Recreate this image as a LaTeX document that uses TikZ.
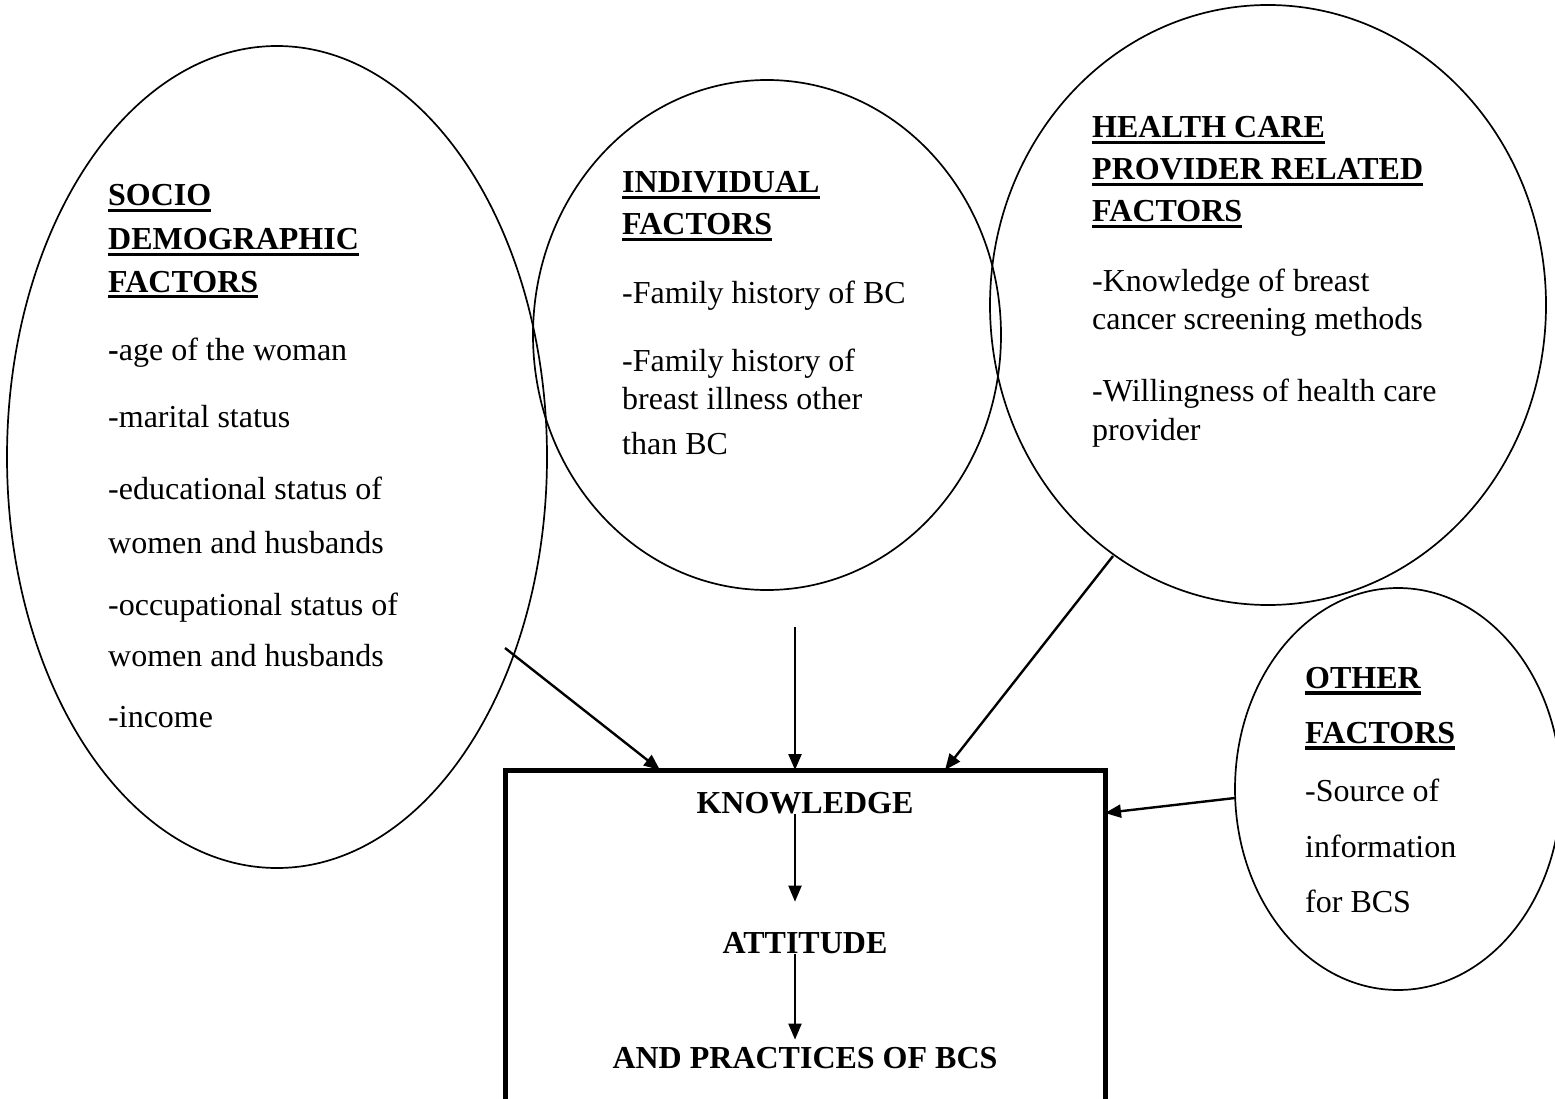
\documentclass[tikz,border=0pt]{standalone}
\usepackage{fontspec}
\setmainfont{Liberation Serif}
\usetikzlibrary{shapes.geometric,arrows.meta}
\newcommand{\fs}{\fontsize{32}{36}\selectfont}
\newsavebox\hdbox
\newcommand{\hul}[1]{\sbox\hdbox{\bfseries #1}\rlap{\rule[-6.5pt]{\wd\hdbox}{3.6pt}}\usebox\hdbox}
\begin{document}
\begin{tikzpicture}[x=1pt,y=-1pt,
  oval/.style={draw, ellipse, line width=1.7pt, inner sep=0pt, outer sep=0pt},
  txt/.style={anchor=base west, inner sep=0pt, font=\fs},
  btxt/.style={anchor=base, inner sep=0pt, font=\fs\bfseries},
  arr/.style={line width=2.4pt, -{Triangle[length=16pt,width=13pt]}},
  iarr/.style={line width=2pt, -{Triangle[length=16pt,width=13pt]}}]
\useasboundingbox (0,0) rectangle (1555,1099);
\clip (0,0) rectangle (1555,1099);

% ellipses
\node[oval, minimum width=540pt, minimum height=822pt] (socio) at (277,457) {};
\node[oval, minimum width=468pt, minimum height=510pt] (indiv) at (767,335) {};
\node[oval, minimum width=556pt, minimum height=600pt] (health) at (1268,305) {};
\node[oval, minimum width=326pt, minimum height=402pt] (other) at (1398,789) {};

% box
\node[draw, line width=5pt, minimum width=600pt, minimum height=400pt, anchor=north west, inner sep=0pt, outer sep=0pt] (box) at (505,770) {};

% socio text
\node[txt] (s1) at (108,206) {\hul{SOCIO}};
\node[txt] (s2) at (108,250) {\hul{DEMOGRAPHIC}};
\node[txt] (s3) at (108,292) {\hul{FACTORS}};
\node[txt] (s4) at (108,360) {{\bfseries -}age of the woman};
\node[txt] (s5) at (108,427) {-marital status};
\node[txt] (s6) at (108,499) {-educational status of};
\node[txt] (s7) at (108,553) {women and husbands};
\node[txt] (s8) at (108,615) {-occupational status of};
\node[txt] (s9) at (108,666) {women and husbands};
\node[txt] (s10) at (108,727) {-income};

% individual text
\node[txt] (i1) at (622,193) {\hul{INDIVIDUAL}};
\node[txt] (i2) at (622,235) {\hul{FACTORS}};
\node[txt] (i3) at (622,303) {-Family history of BC};
\node[txt] (i4) at (622,371) {-Family history of};
\node[txt] (i5) at (622,409) {breast illness other};
\node[txt] (i6) at (622,454) {than BC};

% health text
\node[txt] (h1) at (1092,138) {\hul{HEALTH CARE}};
\node[txt] (h2) at (1092,180) {\hul{PROVIDER RELATED}};
\node[txt] (h3) at (1092,222) {\hul{FACTORS}};
\node[txt] (h4) at (1092,291) {-Knowledge of breast};
\node[txt] (h5) at (1092,329) {cancer screening methods};
\node[txt] (h6) at (1092,401) {-Willingness of health care};
\node[txt] (h7) at (1092,440) {provider};

% other text
\node[txt] (o1) at (1305,688) {\hul{OTHER}};
\node[txt] (o2) at (1305,743) {\hul{FACTORS}};
\node[txt] (o3) at (1305,801) {-Source of};
\node[txt] (o4) at (1305,857) {information};
\node[txt] (o5) at (1305,912) {for BCS};

% box text
\node[btxt] (know) at (805,813) {KNOWLEDGE};
\node[btxt] (att) at (805,953) {ATTITUDE};
\node[btxt] (prac) at (805,1068) {AND PRACTICES OF BCS};

% connector start points
\coordinate (sa) at (505,648);
\coordinate (ia) at (795,627);
\coordinate (ha) at (1113,556);
\coordinate (oa) at (1235,798);

\draw[arr] (sa) -- ([xshift=155pt]box.north west);
\draw[arr] (ia) -- ([xshift=290pt]box.north west);
\draw[arr] (ha) -- ([xshift=440pt]box.north west);
\draw[arr] (oa) -- ([yshift=-43pt]box.north east);

\draw[iarr] ([xshift=-10pt]know.south) -- ([xshift=-10pt,yshift=30pt]att.north);
\draw[iarr] ([xshift=-10pt]att.south) -- ([xshift=-10pt,yshift=7pt]prac.north);
\end{tikzpicture}
\end{document}
